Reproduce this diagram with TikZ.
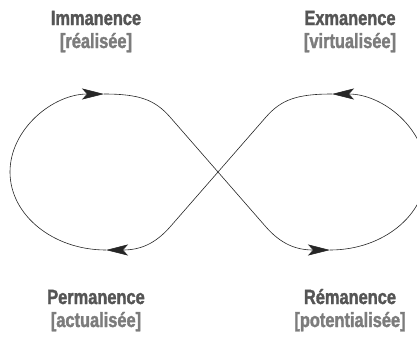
\documentclass[tikz,border=0pt]{standalone}
\usepackage{fontspec}
\newfontfamily\labelfont{Liberation Sans Bold}[FakeStretch=0.8, FakeBold=1.6]
\usetikzlibrary{arrows.meta, positioning}
\definecolor{titlegray}{HTML}{555555}
\definecolor{subgray}{HTML}{7C7C7C}

\begin{document}
\begin{tikzpicture}[
  x=1pt, y=-1pt,
  title/.style={anchor=base, inner sep=0pt, font=\labelfont\fontsize{20.5}{23}\selectfont, text=titlegray},
  sub/.style={anchor=base, inner sep=0pt, font=\labelfont\fontsize{20.5}{23}\selectfont, text=subgray},
  arr/.style={-{Stealth[length=22pt, width=11pt, inset=5pt]}, line width=0.6pt, draw=black!85}
]
\useasboundingbox (0,0) rectangle (417,338);
\clip (0,0) rectangle (417,338);
% labels
\node[title] (imm) at (96,25) {Immanence};
\node[sub] (imm-s) at ([yshift=-23pt]imm.base) {[réalisée]};
\node[title] (exm) at (350,25) {Exmanence};
\node[sub] (exm-s) at ([yshift=-23pt]exm.base) {[virtualisée]};
\node[title] (per) at (96,304) {Permanence};
\node[sub] (per-s) at ([yshift=-23pt]per.base) {[actualisée]};
\node[title] (rem) at (350,304) {Rémanence};
\node[sub] (rem-s) at ([yshift=-23pt]rem.base) {[potentialisée]};
% lemniscate
\coordinate (tl) at (104,94);
\coordinate (bl) at (106,250);
\coordinate (tr) at (332,94);
\coordinate (br) at (330,250);
\draw[arr] (bl) .. controls (53,250) and (10,215) .. (10,172)
  .. controls (10,129) and (53,94) .. (tl);
\draw[arr] (tl) .. controls (140,94) and (155,100) .. (170,117) -- (266,227)
  .. controls (281,244) and (296,250) .. (br);
\draw[arr] (br) .. controls (383,250) and (426,215) .. (426,172)
  .. controls (426,129) and (383,94) .. (tr);
\draw[arr] (tr) .. controls (296,94) and (281,100) .. (266,117) -- (170,227)
  .. controls (155,244) and (140,250) .. (bl);
\end{tikzpicture}
\end{document}
